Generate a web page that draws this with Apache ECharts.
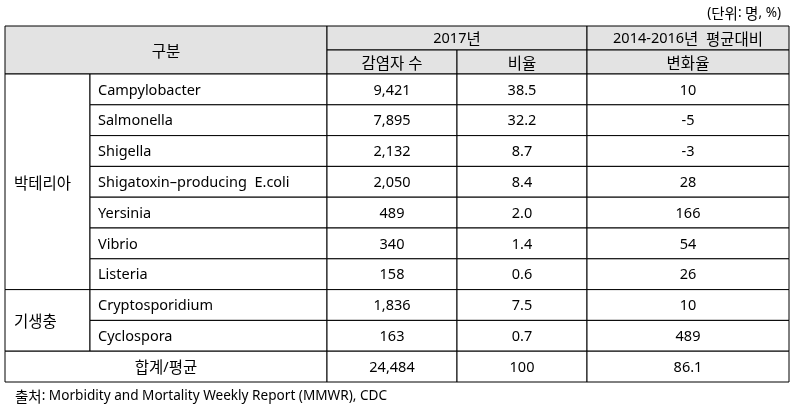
<!DOCTYPE html>
<html>
<head>
<meta charset="utf-8">
<script src="https://cdn.jsdelivr.net/npm/echarts@6/dist/echarts.min.js"></script>
<style>html,body{margin:0;padding:0;background:#fff}#c{width:808px;height:409px}</style>
</head>
<body>
<div id="c"></div>
<script>
// ---- data ----
const groupNames = ['박테리아', '기생충'];
const groupSizes = [7, 2];
const pathogens = ['Campylobacter', 'Salmonella', 'Shigella', 'Shigatoxin\u2013producing  E.coli', 'Yersinia', 'Vibrio', 'Listeria', 'Cryptosporidium', 'Cyclospora'];
const cases = [9421, 7895, 2132, 2050, 489, 340, 158, 1836, 163];
const shares = [38.5, 32.2, 8.7, 8.4, 2.0, 1.4, 0.6, 7.5, 0.7];
const changes = [10, -5, -3, 28, 166, 54, 26, 10, 489];
const totalLabel = '합계/평균';
const totalCases = 24484;
const totalShare = 100;
const totalChange = 86.1;
const headerTop = ['구분', '2017년', '2014-2016년  평균대비'];
const headerSub = ['감염자 수', '비율', '변화율'];
const unitText = '(단위: 명, %)';
const sourceText = '출처: Morbidity and Mortality Weekly Report (MMWR), CDC';

// ---- layout ----
const COL = [0, 85, 322, 452, 582, 784]; // column edges in x-axis units
const HEAD_H = 24;
const LFONT = "'Noto Sans', sans-serif";
const KFONT = "'Noto Sans CJK KR', sans-serif";
const LINE = '#000';
const HEAD_FILL = '#e3e3e3';
const TXT = '#000';

const rowLabels = pathogens.concat([totalLabel]);
const groupStart = [];
{ let s = 0; groupSizes.forEach(n => { groupStart.push(s); s += n; }); }

function fmtShare(v, total) { return total ? String(v) : v.toFixed(1); }

// split text into Hangul / non-Hangul runs for rich text
function rich(str) {
  const re = /([\uac00-\ud7af\u3130-\u318f]+)|([^\uac00-\ud7af\u3130-\u318f]+)/g;
  let out = '', m;
  while ((m = re.exec(str))) out += m[1] ? '{k|' + m[1] + '}' : '{l|' + m[2] + '}';
  return out;
}
function richStyles(ls, ks) {
  return {
    l: { fontFamily: LFONT, fontSize: ls, fill: TXT, color: TXT },
    k: { fontFamily: KFONT, fontSize: ks, fill: TXT, color: TXT }
  };
}
const BODY_RICH = richStyles(14.5, 15.5);
const NOTE_RICH = richStyles(13.6, 14.5);

function renderItem(params, api) {
  const r = api.value(1);
  const band = api.size([0, 1])[1];
  const yc = api.coord([0, r])[1];
  const top = yc - band / 2;
  const X = e => api.coord([e, r])[0];
  const ch = [];
  function rect(x0, x1, y0, h, fill) {
    ch.push({ type: 'rect', shape: { x: x0, y: y0, width: x1 - x0, height: h },
      style: { fill: fill || '#fff', stroke: LINE, lineWidth: 1 } });
  }
  function text(str, x, y, align) {
    ch.push({ type: 'text', x: x, y: y,
      style: { text: rich(str), rich: BODY_RICH, fill: TXT, textAlign: align || 'center', textVerticalAlign: 'middle', align: align || 'center', verticalAlign: 'middle' } });
  }
  function cell(c0, c1, y0, h, str, align, fill, pad) {
    const x0 = X(COL[c0]), x1 = X(COL[c1]);
    rect(x0, x1, y0, h, fill);
    if (str !== null && str !== undefined) {
      if (align === 'left') text(str, x0 + pad, y0 + h / 2 + 1, 'left');
      else text(str, (x0 + x1) / 2, y0 + h / 2 + 1, 'center');
    }
  }
  if (r === 0) {
    const t0 = top - 2 * HEAD_H;
    cell(0, 2, t0, 2 * HEAD_H, headerTop[0], 'center', HEAD_FILL);
    cell(2, 4, t0, HEAD_H, headerTop[1], 'center', HEAD_FILL);
    cell(4, 5, t0, HEAD_H, headerTop[2], 'center', HEAD_FILL);
    cell(2, 3, t0 + HEAD_H, HEAD_H, headerSub[0], 'center', HEAD_FILL);
    cell(3, 4, t0 + HEAD_H, HEAD_H, headerSub[1], 'center', HEAD_FILL);
    cell(4, 5, t0 + HEAD_H, HEAD_H, headerSub[2], 'center', HEAD_FILL);
  }
  if (r < pathogens.length) {
    const gi = groupStart.indexOf(r);
    if (gi >= 0) cell(0, 1, top, band * groupSizes[gi], groupNames[gi], 'left', '#fff', 9);
    cell(1, 2, top, band, pathogens[r], 'left', '#fff', 8);
    cell(2, 3, top, band, cases[r].toLocaleString('en-US'), 'center');
    cell(3, 4, top, band, fmtShare(shares[r], false), 'center');
    cell(4, 5, top, band, String(changes[r]), 'center');
  } else {
    cell(0, 2, top, band, totalLabel, 'center');
    cell(2, 3, top, band, totalCases.toLocaleString('en-US'), 'center');
    cell(3, 4, top, band, fmtShare(totalShare, true), 'center');
    cell(4, 5, top, band, String(totalChange), 'center');
  }
  return { type: 'group', children: ch };
}

const chart = echarts.init(document.getElementById('c'), null, { renderer: 'canvas' });
chart.setOption({
  animation: false,
  grid: { left: 5, right: 19, top: 74, bottom: 27 },
  xAxis: { type: 'value', min: COL[0], max: COL[COL.length - 1], show: false },
  yAxis: { type: 'category', data: rowLabels, inverse: true, show: false },
  graphic: [
    { type: 'text', right: 27, top: 6, style: { text: rich(unitText), rich: NOTE_RICH, fill: TXT } },
    { type: 'text', left: 15, top: 389, style: { text: rich(sourceText), rich: NOTE_RICH, fill: TXT } }
  ],
  series: [{
    type: 'custom',
    coordinateSystem: 'cartesian2d',
    clip: false,
    renderItem: renderItem,
    encode: { x: 0, y: 1 },
    data: rowLabels.map((_, i) => [0, i])
  }]
});
</script>
</body>
</html>
